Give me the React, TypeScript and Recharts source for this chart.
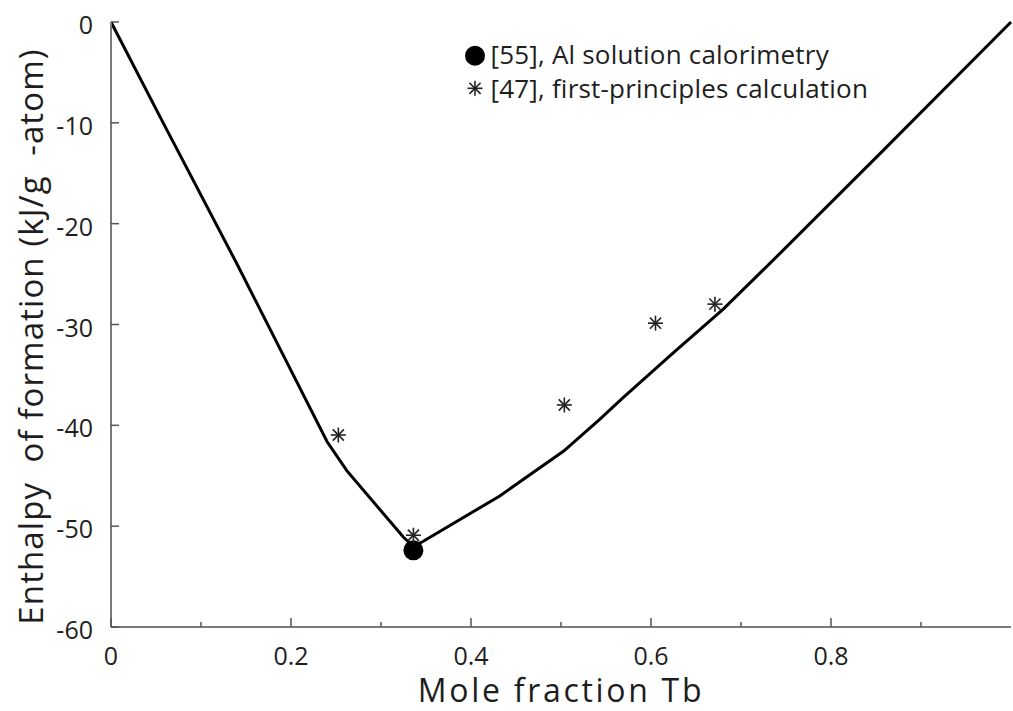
import React from 'react';
import { ComposedChart, Line, Scatter, XAxis, YAxis, Legend } from 'recharts';

// Calculated enthalpy curve
const curveX = [0, 0.058, 0.14, 0.24, 0.262, 0.325, 0.336, 0.347, 0.432, 0.503, 0.543, 0.569, 0.625, 0.68, 0.745, 0.855, 1.0];
const curveY = [0, -10.0, -24.0, -41.6, -44.5, -51.1, -52.0, -51.5, -47.0, -42.55, -39.4, -37.25, -32.8, -28.5, -22.8, -13.0, 0];

// [55] Al solution calorimetry
const calX = [0.336];
const calY = [-52.4];

// [47] first-principles calculation
const dftX = [0.2526, 0.336, 0.5037, 0.605, 0.671];
const dftY = [-40.96, -50.9, -37.98, -29.87, -27.98];

const xMajorTicks = [0, 0.2, 0.4, 0.6, 0.8];
const xMinorTicks = [0.1, 0.3, 0.5, 0.7, 0.9];
const yTicks = [-60, -50, -40, -30, -20, -10, 0];

const xLabel = 'Mole fraction Tb';
const yLabel = 'Enthalpy  of formation (kJ/g  -atom)';
const legendLabels = ['[55], Al solution calorimetry', '[47], first-principles calculation'];

const curveData = curveX.map((x, i) => ({ x, y: curveY[i] }));
const calData = calX.map((x, i) => ({ x, y: calY[i] }));
const dftData = dftX.map((x, i) => ({ x, y: dftY[i] }));
const xAllTicks = [...xMajorTicks, ...xMinorTicks].sort((a, b) => a - b);

const FONT = '"Open Sans", "Noto Sans", sans-serif';
const AXIS = '#7a7a7a';
const TICK = '#555';
const TEXT = '#1e1e1e';

const isMajorX = (v: number) => xMajorTicks.some((t) => Math.abs(t - v) < 1e-9);
const fmtX = (v: number) => (v === 0 ? '0' : String(Math.round(v * 10) / 10));

const BottomTick = (props: any) => {
  const { x, y, payload } = props;
  const major = isMajorX(payload.value);
  return (
    <g>
      <line x1={x} x2={x} y1={y} y2={y - (major ? 9 : 5)} stroke={TICK} strokeWidth={1.5} />
      {major && (
        <text x={x} y={y + 38} textAnchor="middle" fontFamily={FONT} fontSize={25} fill={TEXT}>
          {fmtX(payload.value)}
        </text>
      )}
    </g>
  );
};

const TopTick = (props: any) => {
  const { x, y, payload } = props;
  const major = isMajorX(payload.value);
  return <line x1={x} x2={x} y1={y} y2={y + (major ? 9 : 5)} stroke={TICK} strokeWidth={1.5} />;
};

const LeftTick = (props: any) => {
  const { x, y, payload } = props;
  return (
    <g>
      <line x1={x} x2={x + 8} y1={y} y2={y} stroke={TICK} strokeWidth={1.5} />
      <text x={x - 18} y={y + 12} textAnchor="end" fontFamily={FONT} fontSize={25} fill={TEXT}>
        {String(payload.value)}
      </text>
    </g>
  );
};

const RightTick = (props: any) => {
  const { x, y } = props;
  return <line x1={x} x2={x - 6} y1={y} y2={y} stroke={TICK} strokeWidth={1.5} />;
};

const Star = (props: any) => {
  const { cx, cy } = props;
  const r = 7.5;
  const d = 5.6;
  return (
    <g stroke="#222" strokeWidth={1.6}>
      <line x1={cx - r} x2={cx + r} y1={cy} y2={cy} />
      <line x1={cx} x2={cx} y1={cy - r} y2={cy + r} />
      <line x1={cx - d} x2={cx + d} y1={cy - d} y2={cy + d} />
      <line x1={cx - d} x2={cx + d} y1={cy + d} y2={cy - d} />
    </g>
  );
};

const Dot = (props: any) => {
  const { cx, cy } = props;
  return <circle cx={cx} cy={cy} r={10} fill="#000" />;
};

const YLabelContent = (props: any) => {
  const vb = props.viewBox || { x: 0, y: 22, width: 111, height: 605 };
  const cx = vb.x + 43;
  const cy = vb.y + vb.height / 2 + 12;
  return (
    <text
      x={cx}
      y={cy}
      transform={`rotate(-90 ${cx} ${cy})`}
      textAnchor="middle"
      fontFamily={FONT}
      fontSize={33}
      fill={TEXT}
      style={{ whiteSpace: 'pre' }}
      letterSpacing={1.1}
    >
      {yLabel}
    </text>
  );
};

const XLabelContent = (props: any) => {
  const vb = props.viewBox || { x: 111, y: 627, width: 900, height: 84 };
  return (
    <text
      x={vb.x + vb.width / 2}
      y={vb.y + 75}
      textAnchor="middle"
      fontFamily={FONT}
      fontSize={32}
      fill={TEXT}
      letterSpacing={2.7}
    >
      {xLabel}
    </text>
  );
};

const LegendContent = () => (
  <svg width={440} height={80} style={{ display: 'block' }}>
    <circle cx={35} cy={25.8} r={10} fill="#000" />
    <text x={50.5} y={34} fontFamily={FONT} fontSize={26} fill={TEXT} letterSpacing={0.2}>
      {legendLabels[0]}
    </text>
    <g transform="translate(35 58.3)">
      <Star cx={0} cy={0} />
    </g>
    <text x={50.5} y={68} fontFamily={FONT} fontSize={26} fill={TEXT} letterSpacing={0.2}>
      {legendLabels[1]}
    </text>
  </svg>
);

export default function App() {
  return (
    <div style={{ position: 'absolute', left: 0, top: 0, width: 1013, height: 711, background: '#fff' }}>
      <ComposedChart width={1013} height={711} margin={{ top: 22, right: 2, bottom: 0, left: 0 }}>
        <XAxis
          xAxisId="b"
          type="number"
          dataKey="x"
          domain={[0, 1]}
          ticks={xAllTicks}
          interval={0}
          orientation="bottom"
          height={84}
          tickSize={0}
          tickMargin={0}
          tickLine={false}
          axisLine={{ stroke: AXIS, strokeWidth: 2 }}
          tick={BottomTick}
          label={XLabelContent}
        />
        <XAxis
          xAxisId="t"
          type="number"
          dataKey="x"
          domain={[0, 1]}
          ticks={xAllTicks}
          interval={0}
          orientation="top"
          height={0}
          tickSize={0}
          tickMargin={0}
          tickLine={false}
          axisLine={{ stroke: AXIS, strokeWidth: 2 }}
          tick={TopTick}
        />
        <YAxis
          yAxisId="l"
          type="number"
          domain={[-60, 0]}
          ticks={yTicks}
          interval={0}
          orientation="left"
          width={111}
          tickSize={0}
          tickMargin={0}
          tickLine={false}
          axisLine={{ stroke: AXIS, strokeWidth: 2 }}
          tick={LeftTick}
          label={YLabelContent}
        />
        <YAxis
          yAxisId="r"
          type="number"
          domain={[-60, 0]}
          ticks={yTicks}
          interval={0}
          orientation="right"
          width={0}
          tickSize={0}
          tickMargin={0}
          tickLine={false}
          axisLine={false}
          tick={RightTick}
        />
        <Line
          xAxisId="b"
          yAxisId="l"
          data={curveData}
          dataKey="y"
          type="linear"
          stroke="#000"
          strokeWidth={3}
          dot={false}
          legendType="none"
          isAnimationActive={false}
        />
        <Scatter
          xAxisId="b"
          yAxisId="l"
          name={legendLabels[0]}
          data={calData}
          dataKey="y"
          shape={Dot}
          isAnimationActive={false}
        />
        <Scatter
          xAxisId="b"
          yAxisId="l"
          name={legendLabels[1]}
          data={dftData}
          dataKey="y"
          shape={Star}
          isAnimationActive={false}
        />
        <Legend
          layout="horizontal"
          verticalAlign="middle"
          align="center"
          content={LegendContent}
          wrapperStyle={{ position: 'absolute', left: 440, top: 30, width: 440, height: 80 }}
        />
      </ComposedChart>
    </div>
  );
}
